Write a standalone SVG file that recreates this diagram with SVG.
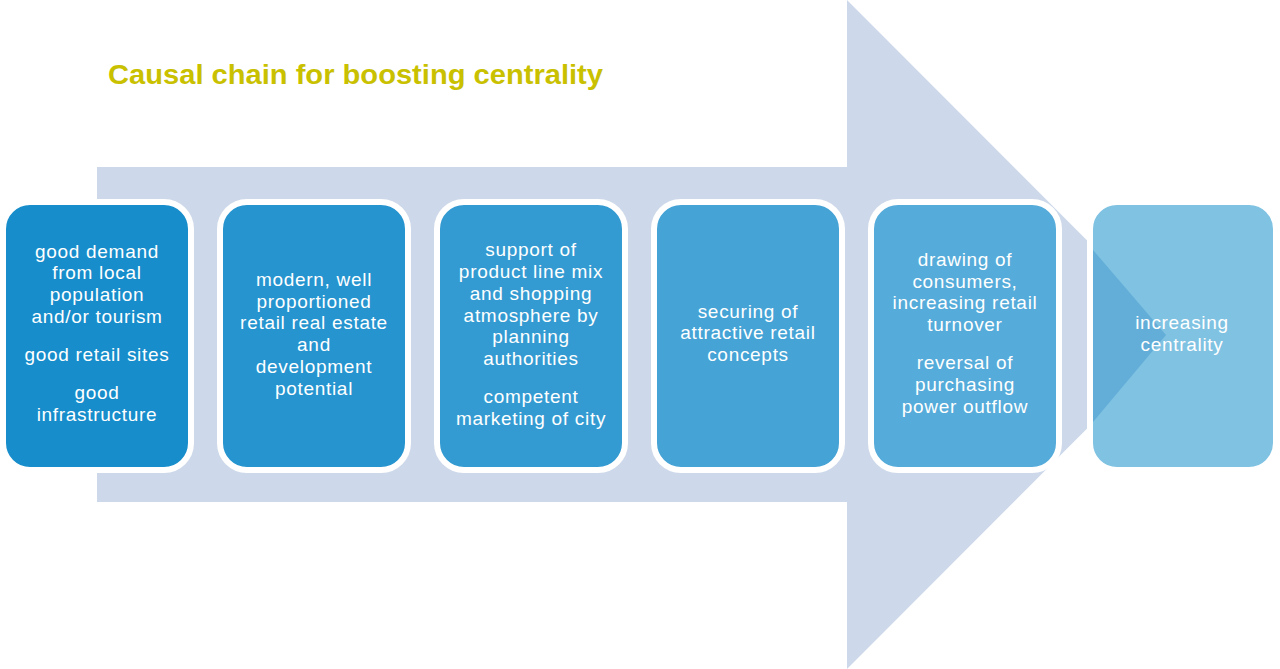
<svg xmlns="http://www.w3.org/2000/svg" width="1280" height="669" viewBox="0 0 1280 669">
<style>
.box{stroke:#ffffff;stroke-width:6}
.t{font-family:"Liberation Sans",Arial,sans-serif;font-size:19px;fill:#ffffff;text-anchor:middle;letter-spacing:0.7px}
.title{font-family:"Liberation Sans",Arial,sans-serif;font-size:27px;font-weight:bold;fill:#c9c100}
</style>
<rect width="1280" height="669" fill="#ffffff"/>
<text class="title" x="108" y="84" textLength="495" lengthAdjust="spacingAndGlyphs">Causal chain for boosting centrality</text>
<g id="connectors">
<polygon points="97,167 847,167 847,0 1181,334.5 847,669 847,502 97,502" fill="#cdd9ea"/>
</g>
<g id="node1">
<rect class="box" x="3" y="202" width="188" height="268" rx="27" fill="#178dcb"/>
<text class="t" x="97" y="258">good demand</text>
<text class="t" x="97" y="279">from local</text>
<text class="t" x="97" y="301">population</text>
<text class="t" x="97" y="323">and/or tourism</text>
<text class="t" x="97" y="361">good retail sites</text>
<text class="t" x="97" y="399">good</text>
<text class="t" x="97" y="421">infrastructure</text>
</g>
<g id="node2">
<rect class="box" x="220" y="202" width="188" height="268" rx="27" fill="#2594cf"/>
<text class="t" x="314" y="286">modern, well</text>
<text class="t" x="314" y="308">proportioned</text>
<text class="t" x="314" y="329">retail real estate</text>
<text class="t" x="314" y="351">and</text>
<text class="t" x="314" y="373">development</text>
<text class="t" x="314" y="395">potential</text>
</g>
<g id="node3">
<rect class="box" x="437" y="202" width="188" height="268" rx="27" fill="#349bd2"/>
<text class="t" x="531" y="256">support of</text>
<text class="t" x="531" y="278">product line mix</text>
<text class="t" x="531" y="300">and shopping</text>
<text class="t" x="531" y="322">atmosphere by</text>
<text class="t" x="531" y="343">planning</text>
<text class="t" x="531" y="365">authorities</text>
<text class="t" x="531" y="403">competent</text>
<text class="t" x="531" y="425">marketing  of city</text>
</g>
<g id="node4">
<rect class="box" x="654" y="202" width="188" height="268" rx="27" fill="#45a3d6"/>
<text class="t" x="748" y="318">securing of</text>
<text class="t" x="748" y="339">attractive retail</text>
<text class="t" x="748" y="361">concepts</text>
</g>
<g id="node5">
<rect class="box" x="871" y="202" width="188" height="268" rx="27" fill="#55abd9"/>
<text class="t" x="965" y="266">drawing of</text>
<text class="t" x="965" y="288">consumers,</text>
<text class="t" x="965" y="309">increasing retail</text>
<text class="t" x="965" y="331">turnover</text>
<text class="t" x="965" y="369">reversal of</text>
<text class="t" x="965" y="391">purchasing</text>
<text class="t" x="965" y="413">power outflow</text>
</g>
<g id="node6">
<rect class="box" x="1090" y="202" width="186" height="268" rx="27" fill="#7fc2e2"/>
<polygon points="1093,250 1166,335 1093,422" fill="#63aed8"/>
<text class="t" x="1182" y="329">increasing</text>
<text class="t" x="1182" y="351">centrality</text>
</g>
</svg>
